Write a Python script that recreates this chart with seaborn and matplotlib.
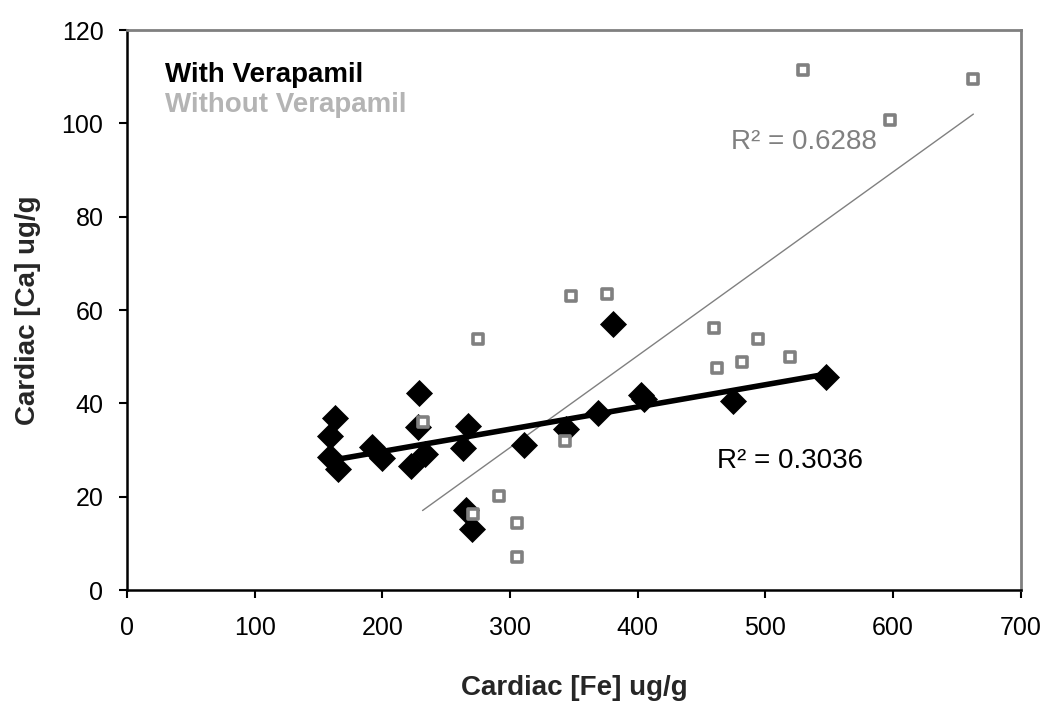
import numpy as np
import pandas as pd
import seaborn as sns
import matplotlib.pyplot as plt

# With Verapamil (black diamonds)
with_fe = [158.6, 159, 163, 165, 192, 199.7, 222.4, 229, 227.6, 233.3, 263.5,
           267.4, 265.4, 270, 311, 343.5, 368.8, 380.7, 403, 405, 475, 547.4]
with_ca = [28.6, 32.9, 36.8, 26, 30.7, 28.2, 26.6, 42.3, 35, 29.1, 30.4,
           35.2, 17.1, 13, 31, 34.6, 37.9, 57, 41.8, 41, 40.6, 45.6]

# Without Verapamil (grey open squares)
without_fe = [231.5, 271, 275, 291.4, 305.7, 305.7, 342.7, 348, 376, 460, 462,
              482, 494.5, 519, 529.7, 597.4, 663]
without_ca = [36, 16.2, 53.8, 20.1, 14.4, 7.1, 31.9, 63, 63.5, 56.2, 47.6,
              48.8, 53.8, 49.9, 111.4, 100.7, 109.5]

r2_with = "R² = 0.3036"
r2_without = "R² = 0.6288"

sns.set_theme(style="white")
plt.rcParams['font.family'] = ['Liberation Sans', 'DejaVu Sans']

fig, ax = plt.subplots(figsize=(10.5, 7.06), dpi=100)
fig.subplots_adjust(left=0.121, right=0.972, top=0.9575, bottom=0.1643)

grey = "#808080"

# trend lines
sns.regplot(x=without_fe, y=without_ca, scatter=False, ci=None, truncate=True,
            color=grey, line_kws=dict(lw=1.0, zorder=2), ax=ax)
sns.regplot(x=with_fe, y=with_ca, scatter=False, ci=None, truncate=True,
            color="black", line_kws=dict(lw=4, zorder=3), ax=ax)

# points
sns.scatterplot(x=with_fe, y=with_ca, marker="D", s=190, color="black",
                edgecolor="black", linewidth=0, zorder=4, ax=ax)
sns.scatterplot(x=without_fe, y=without_ca, marker="s", s=50, facecolor="white",
                edgecolor=grey, linewidth=2.6, zorder=5, ax=ax)

ax.set_xlim(0, 700)
ax.set_ylim(0, 120)
ax.set_xticks(range(0, 701, 100))
ax.set_yticks(range(0, 121, 20))

for side in ["left", "bottom"]:
    ax.spines[side].set_color("black")
    ax.spines[side].set_linewidth(1.8)
for side in ["top", "right"]:
    ax.spines[side].set_color(grey)
    ax.spines[side].set_linewidth(2)

ax.tick_params(axis="both", direction="out", length=6, width=1.5,
               colors="black", labelsize=18, bottom=True, left=True)
ax.tick_params(axis="x", pad=13)
ax.tick_params(axis="y", pad=11)

ax.set_xlabel("Cardiac [Fe] ug/g", fontsize=20, fontweight="bold", labelpad=25)
ax.set_ylabel("Cardiac [Ca] ug/g", fontsize=20, fontweight="bold", labelpad=15)

ax.text(30, 110.4, "With Verapamil", fontsize=20, fontweight="bold",
        color="black", va="center")
ax.text(30, 103.9, "Without Verapamil", fontsize=20, fontweight="bold",
        color="#b4b4b4", va="center")

ax.text(462, 27.6, r2_with, fontsize=20, color="black", va="center")
ax.text(473, 96, r2_without, fontsize=20, color=grey, va="center")

fig.savefig("out.png", dpi=100)
